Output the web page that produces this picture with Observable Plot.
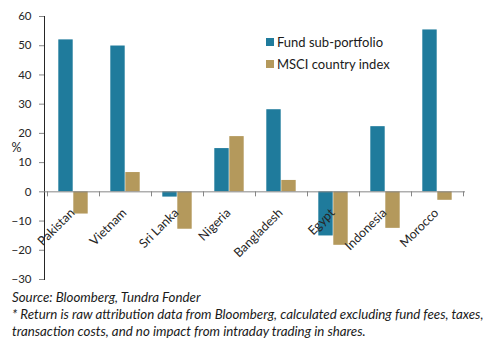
<!DOCTYPE html>
<html><head><meta charset="utf-8">
<script src="https://cdn.jsdelivr.net/npm/d3@7"></script>
<script src="https://cdn.jsdelivr.net/npm/@observablehq/plot@0.6"></script>
<style>
body{margin:0;background:#fff;font-family:Lato,sans-serif;}
#wrap{position:relative;width:493px;height:346px;}
#legend{position:absolute;left:266px;top:31px;font-size:13px;color:#1a1a1a;}
.item{display:flex;align-items:center;height:22px;white-space:nowrap;}
.sw{width:8px;height:8px;margin-right:3px;}
#caption{font-style:italic;font-size:13.3px;line-height:17px;color:#1a1a1a;padding-left:12px;white-space:nowrap;}
svg [aria-label^="y-axis"] path, svg [aria-label^="y-axis"] line{stroke:#868686}
svg [aria-label^="y-axis"] text{fill:#262626}
</style>
</head><body>
<div id="wrap"><div id="chart"></div><div id="legend"></div><div id="caption"></div></div>
<script>
const categories = ["Pakistan","Vietnam","Sri Lanka","Nigeria","Bangladesh","Egypt","Indonesia","Morocco"];
const fund = [52.0, 49.9, -1.8, 14.8, 28.1, -15.1, 22.3, 55.4];
const msci = [-7.6, 6.6, -12.8, 18.9, 3.9, -18.3, -12.5, -2.9];
const seriesNames = ["Fund sub-portfolio","MSCI country index"];
const seriesColors = ["#1f7b9c","#b4995c"];
const yTicks = [-30,-20,-10,0,10,20,30,40,50,60];
const yLabel = "%";
const captionLines = [
  "Source: Bloomberg, Tundra Fonder",
  "* Return is raw attribution data from Bloomberg, calculated excluding fund fees, taxes,",
  "transaction costs, and no impact from intraday trading in shares."
];

const fundRows = categories.map((c,i)=>({country:c, value:fund[i]}));
const msciRows = categories.map((c,i)=>({country:c, value:msci[i]}));

const boundaryTicks = (index, scales) => {
  const x = scales.x, y = scales.y;
  const bw = typeof x.bandwidth === "function" ? x.bandwidth() : x.bandwidth;
  const xs = categories.map(c => x(c)).concat([x(categories[categories.length-1]) + bw]);
  const g = d3.create("svg:g").attr("aria-label","category-ticks");
  g.selectAll("line").data(xs).join("line")
    .attr("x1", d=>Math.round(d)+0.5).attr("x2", d=>Math.round(d)+0.5)
    .attr("y1", y(0)).attr("y2", y(0)+5)
    .attr("stroke","#868686");
  return g.node();
};

const plot = Plot.plot({
  width: 493,
  height: 289,
  marginLeft: 44,
  marginRight: 28,
  marginTop: 16,
  marginBottom: 10,
  style: {fontFamily: "Lato, sans-serif", fontSize: "11.5px", color: "#262626", background: "#fff"},
  x: {domain: categories, padding: 0, axis: null},
  y: {domain: [-30, 60], ticks: yTicks, tickSize: 5, tickPadding: 8, line: true, label: null},
  marks: [
    Plot.barY(fundRows, {x: "country", y: "value", fill: seriesColors[0], insetLeft: 11.3, insetRight: 26.3}),
    Plot.barY(msciRows, {x: "country", y: "value", fill: seriesColors[1], insetLeft: 26.3, insetRight: 11.3}),
    Plot.ruleY([0], {stroke: "#868686"}),
    boundaryTicks,
    Plot.text(categories, {x: d => d, y: 0, text: d => d, rotate: -45, textAnchor: "end", dx: -1, dy: 19, fontSize: 12.5, fill: "#262626"}),
    Plot.text([yLabel], {frameAnchor: "left", text: d => d, dx: -33, fontSize: 12.5, fill: "#262626"})
  ]
});
document.getElementById("chart").appendChild(plot);

const legend = d3.select("#legend");
seriesNames.forEach((n,i)=>{
  const it = legend.append("div").attr("class","item");
  it.append("div").attr("class","sw").style("background", seriesColors[i]);
  it.append("span").text(n);
});
const cap = d3.select("#caption");
captionLines.forEach(l => cap.append("div").text(l));
</script>
</body></html>
